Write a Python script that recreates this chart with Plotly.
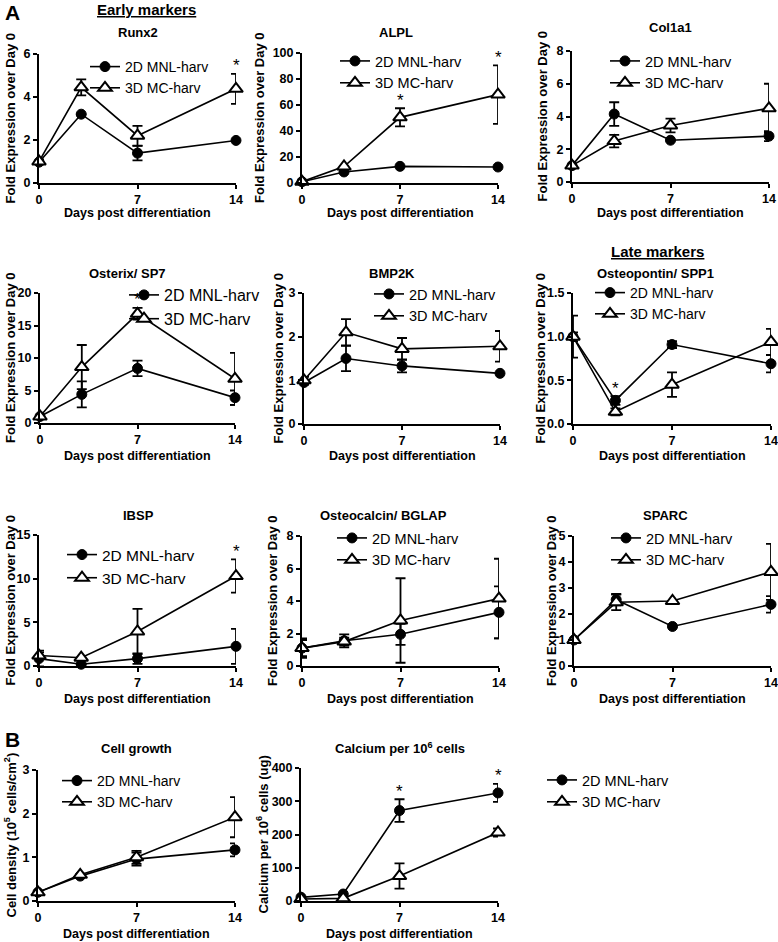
import plotly.graph_objects as go

DAYS = [0, 3, 7, 14]
X_TICKS = [0, 7, 14]
SERIES_NAMES = ["2D MNL-harv", "3D MC-harv"]

# ---- data (mean, error) ----
RUNX2_2D = [0.97, 3.2, 1.39, 1.98]
RUNX2_2D_ERR = [0.1, 0.0, 0.34, 0.0]
RUNX2_3D = [1.0, 4.45, 2.2, 4.38]
RUNX2_3D_ERR = [0.1, 0.37, 0.46, 0.7]
RUNX2_YTICKS = [0, 2, 4, 6]
RUNX2_STARS = [14]

ALPL_2D = [1.0, 8.5, 12.8, 12.3]
ALPL_2D_ERR = [0.5, 0.0, 0.0, 0.0]
ALPL_3D = [1.0, 12.7, 50.5, 68.0]
ALPL_3D_ERR = [0.5, 0.0, 7.0, 22.5]
ALPL_YTICKS = [0, 20, 40, 60, 80, 100]
ALPL_STARS = [7, 14]

COL1A1_2D = [1.0, 4.15, 2.55, 2.8]
COL1A1_2D_ERR = [0.1, 0.72, 0.0, 0.3]
COL1A1_3D = [1.0, 2.5, 3.45, 4.5]
COL1A1_3D_ERR = [0.1, 0.38, 0.42, 1.5]
COL1A1_YTICKS = [0, 2, 4, 6, 8]

OSTERIX_2D = [1.0, 4.4, 8.4, 3.9]
OSTERIX_2D_ERR = [0.2, 2.0, 1.2, 1.1]
OSTERIX_3D = [1.0, 8.6, 16.8, 6.8]
OSTERIX_3D_ERR = [0.2, 3.4, 0.9, 4.0]
OSTERIX_YTICKS = [0, 5, 10, 15, 20]
OSTERIX_STARS = [7]

BMP2K_2D = [0.95, 1.5, 1.33, 1.16]
BMP2K_2D_ERR = [0.05, 0.29, 0.15, 0.0]
BMP2K_3D = [1.0, 2.1, 1.72, 1.78]
BMP2K_3D_ERR = [0.08, 0.3, 0.25, 0.35]
BMP2K_YTICKS = [0, 1, 2, 3]

SPP1_2D = [1.0, 0.27, 0.91, 0.69]
SPP1_2D_ERR = [0.24, 0.05, 0.04, 0.1]
SPP1_3D = [1.0, 0.14, 0.45, 0.94]
SPP1_3D_ERR = [0.05, 0.04, 0.14, 0.15]
SPP1_YTICKS = [0, 0.5, 1.0, 1.5]
SPP1_STARS = [3]

IBSP_2D = [0.85, 0.2, 0.85, 2.25]
IBSP_2D_ERR = [0.9, 0.0, 0.6, 2.0]
IBSP_3D = [1.2, 0.95, 3.95, 10.3]
IBSP_3D_ERR = [0.35, 0.0, 2.6, 1.9]
IBSP_YTICKS = [0, 5, 10, 15]
IBSP_STARS = [14]

BGLAP_2D = [1.1, 1.55, 1.95, 3.3]
BGLAP_2D_ERR = [0.6, 0.4, 0.65, 1.6]
BGLAP_3D = [1.1, 1.5, 2.8, 4.15]
BGLAP_3D_ERR = [0.5, 0.25, 2.6, 2.45]
BGLAP_YTICKS = [0, 2, 4, 6, 8]

SPARC_2D = [1.0, 2.55, 1.52, 2.37]
SPARC_2D_ERR = [0.05, 0.22, 0.0, 0.32]
SPARC_3D = [1.0, 2.45, 2.5, 3.62]
SPARC_3D_ERR = [0.05, 0.3, 0.0, 1.08]
SPARC_YTICKS = [0, 1, 2, 3, 4, 5]

GROWTH_2D = [0.2, 0.57, 0.96, 1.17]
GROWTH_2D_ERR = [0.0, 0.0, 0.15, 0.15]
GROWTH_3D = [0.2, 0.6, 1.0, 1.92]
GROWTH_3D_ERR = [0.0, 0.0, 0.15, 0.46]
GROWTH_YTICKS = [0, 1, 2, 3]

CALCIUM_2D = [11, 21, 272, 325]
CALCIUM_2D_ERR = [0, 0, 34, 27]
CALCIUM_3D = [6, 8, 75, 206]
CALCIUM_3D_ERR = [0, 0, 38, 12]
CALCIUM_YTICKS = [0, 100, 200, 300, 400]
CALCIUM_STARS = [7, 14]

FOLD = "Fold Expression over Day 0"
FONT = "Arial, Liberation Sans, Helvetica, sans-serif"
W, H = 778, 942


def fx(v):
    return v / W


def fy(v):
    return 1 - v / H


# box = (x0, x1, ytop, ybottom) in px; title=(x, y); leg=(x, ytop, fontsize); ytx = y-title x; xty = x-title y
PANELS = [
    dict(title="Runx2", ytitle=FOLD, yt=RUNX2_YTICKS, s2=RUNX2_2D, e2=RUNX2_2D_ERR, s3=RUNX2_3D, e3=RUNX2_3D_ERR,
         stars=RUNX2_STARS, box=(39, 236, 54, 183), tpos=(138, 33), leg=(85, 51, 14), ytx=10, xty=213, fmt=""),
    dict(title="ALPL", ytitle=FOLD, yt=ALPL_YTICKS, s2=ALPL_2D, e2=ALPL_2D_ERR, s3=ALPL_3D, e3=ALPL_3D_ERR,
         stars=ALPL_STARS, box=(302, 498, 53, 183), tpos=(396, 33), leg=(335, 45, 14.5), ytx=260, xty=213, fmt=""),
    dict(title="Col1a1", ytitle=FOLD, yt=COL1A1_YTICKS, s2=COL1A1_2D, e2=COL1A1_2D_ERR, s3=COL1A1_3D, e3=COL1A1_3D_ERR,
         stars=[], box=(572, 769, 51, 182), tpos=(670, 28), leg=(605, 45, 14.5), ytx=542, xty=213, fmt=""),
    dict(title="Osterix/ SP7", ytitle=FOLD, yt=OSTERIX_YTICKS, s2=OSTERIX_2D, e2=OSTERIX_2D_ERR, s3=OSTERIX_3D,
         e3=OSTERIX_3D_ERR, stars=OSTERIX_STARS, box=(40, 235, 293, 423), tpos=(127, 273), leg=(124, 278, 16),
         ytx=10, xty=456, fmt=""),
    dict(title="BMP2K", ytitle=FOLD, yt=BMP2K_YTICKS, s2=BMP2K_2D, e2=BMP2K_2D_ERR, s3=BMP2K_3D, e3=BMP2K_3D_ERR,
         stars=[], box=(304, 500, 293, 424), tpos=(392, 273), leg=(369, 278, 14.5), ytx=278, xty=456, fmt=""),
    dict(title="Osteopontin/ SPP1", ytitle=FOLD, yt=SPP1_YTICKS, s2=SPP1_2D, e2=SPP1_2D_ERR, s3=SPP1_3D,
         e3=SPP1_3D_ERR, stars=SPP1_STARS, box=(573, 771, 293, 424), tpos=(655, 273), leg=(590, 277, 14),
         ytx=540, xty=456, fmt=".1f"),
    dict(title="IBSP", ytitle=FOLD, yt=IBSP_YTICKS, s2=IBSP_2D, e2=IBSP_2D_ERR, s3=IBSP_3D, e3=IBSP_3D_ERR,
         stars=IBSP_STARS, box=(39, 236, 535, 666), tpos=(138, 515), leg=(62, 538, 15.5), ytx=10, xty=699, fmt=""),
    dict(title="Osteocalcin/ BGLAP", ytitle=FOLD, yt=BGLAP_YTICKS, s2=BGLAP_2D, e2=BGLAP_2D_ERR, s3=BGLAP_3D,
         e3=BGLAP_3D_ERR, stars=[], box=(302, 499, 536, 666), tpos=(383, 515), leg=(332, 522, 14.5),
         ytx=272, xty=699, fmt=""),
    dict(title="SPARC", ytitle=FOLD, yt=SPARC_YTICKS, s2=SPARC_2D, e2=SPARC_2D_ERR, s3=SPARC_3D, e3=SPARC_3D_ERR,
         stars=[], box=(574, 771, 536, 666), tpos=(665, 515), leg=(606, 522, 14.5), ytx=551, xty=699, fmt=""),
    dict(title="Cell growth", ytitle="Cell density (10<sup>5</sup> cells/cm<sup>2</sup>)", yt=GROWTH_YTICKS,
         s2=GROWTH_2D, e2=GROWTH_2D_ERR, s3=GROWTH_3D, e3=GROWTH_3D_ERR, stars=[], box=(38, 235, 770, 901),
         tpos=(136, 748), leg=(57, 765, 14), ytx=10, xty=934, fmt=""),
    dict(title="Calcium per 10<sup>6</sup> cells", ytitle="Calcium per 10<sup>6</sup> cells (ug)", yt=CALCIUM_YTICKS,
         s2=CALCIUM_2D, e2=CALCIUM_2D_ERR, s3=CALCIUM_3D, e3=CALCIUM_3D_ERR, stars=CALCIUM_STARS,
         box=(301, 498, 768, 901), tpos=(400, 748), leg=(542, 764, 14.5), ytx=262, xty=934, fmt=""),
]

fig = go.Figure()
annotations = []
layout = {}

for i, p in enumerate(PANELS):
    k = i + 1
    xa = "xaxis" if k == 1 else f"xaxis{k}"
    ya = "yaxis" if k == 1 else f"yaxis{k}"
    xr = "x" if k == 1 else f"x{k}"
    yr = "y" if k == 1 else f"y{k}"
    lg = "legend" if k == 1 else f"legend{k}"
    x0, x1, yt0, yb0 = p["box"]

    axis_common = dict(showline=True, linewidth=2, linecolor="black", showgrid=False, zeroline=False,
                       ticks="outside", ticklen=4, tickwidth=2, tickcolor="black", automargin=False,
                       tickfont=dict(family=FONT, size=12.5, color="black", weight="bold"), fixedrange=True)
    layout[xa] = dict(domain=[fx(x0), fx(x1)], anchor=yr, range=[0, 14], tickmode="array",
                      tickvals=X_TICKS, **axis_common)
    layout[ya] = dict(domain=[fy(yb0), fy(yt0)], anchor=xr, range=[0, max(p["yt"])], tickmode="array",
                      tickvals=p["yt"], tickformat=p["fmt"], **axis_common)

    styles = [
        dict(symbol="circle", size=10, color="black", line=dict(color="black", width=1)),
        dict(symbol="triangle-up", size=12, color="white", line=dict(color="black", width=2)),
    ]
    for j, (ys, es) in enumerate([(p["s2"], p["e2"]), (p["s3"], p["e3"])]):
        fig.add_trace(go.Scatter(
            x=DAYS, y=ys, mode="lines+markers", name=SERIES_NAMES[j],
            line=dict(color="black", width=1.6), marker=styles[j],
            error_y=dict(type="data", array=es, visible=True, color="black", thickness=1.8, width=5),
            xaxis=xr, yaxis=yr, legend=lg, cliponaxis=False, showlegend=True, hoverinfo="skip",
        ))

    lx, ly, lfs = p["leg"]
    layout[lg] = dict(x=fx(lx), y=fy(ly), xanchor="left", yanchor="top", bgcolor="rgba(0,0,0,0)",
                      borderwidth=0, font=dict(family=FONT, size=lfs, color="black"), traceorder="normal")

    tx, ty = p["tpos"]
    annotations.append(dict(x=fx(tx), y=fy(ty), xref="paper", yref="paper", text=p["title"], showarrow=False,
                            xanchor="center", yanchor="middle",
                            font=dict(family=FONT, size=13, color="black", weight="bold")))
    annotations.append(dict(x=fx(p["ytx"]), y=fy((yt0 + yb0) / 2), xref="paper", yref="paper", text=p["ytitle"],
                            showarrow=False, textangle=-90, xanchor="center", yanchor="middle",
                            font=dict(family=FONT, size=13, color="black", weight="bold")))
    annotations.append(dict(x=fx((x0 + x1) / 2), y=fy(p["xty"]), xref="paper", yref="paper",
                            text="Days post differentiation", showarrow=False, xanchor="center", yanchor="middle",
                            font=dict(family=FONT, size=12.5, color="black", weight="bold")))
    for d in p["stars"]:
        idx = DAYS.index(d)
        top = max(p["s2"][idx] + p["e2"][idx], p["s3"][idx] + p["e3"][idx])
        annotations.append(dict(x=d, y=top, xref=xr, yref=yr, text="*", showarrow=False, xanchor="center",
                                yanchor="middle", yshift=8, font=dict(family=FONT, size=17, color="black")))

annotations.append(dict(x=fx(146), y=fy(10), xref="paper", yref="paper", text="Early markers", showarrow=False,
                        xanchor="center", yanchor="middle",
                        font=dict(family=FONT, size=15, color="black", weight="bold", lineposition="under")))
annotations.append(dict(x=fx(657), y=fy(251), xref="paper", yref="paper", text="Late markers", showarrow=False,
                        xanchor="center", yanchor="middle",
                        font=dict(family=FONT, size=15, color="black", weight="bold", lineposition="under")))
annotations.append(dict(x=fx(12), y=fy(13), xref="paper", yref="paper", text="A", showarrow=False,
                        xanchor="center", yanchor="middle",
                        font=dict(family=FONT, size=21, color="black", weight="bold")))
annotations.append(dict(x=fx(12), y=fy(739), xref="paper", yref="paper", text="B", showarrow=False,
                        xanchor="center", yanchor="middle",
                        font=dict(family=FONT, size=21, color="black", weight="bold")))

fig.update_layout(width=W, height=H, margin=dict(l=0, r=0, t=0, b=0, pad=0, autoexpand=False),
                  paper_bgcolor="white", plot_bgcolor="white", annotations=annotations, **layout)

fig.write_html("out.html", config={"displayModeBar": False, "staticPlot": True},
               post_script="document.body.style.margin='0px';document.body.style.padding='0px';")
